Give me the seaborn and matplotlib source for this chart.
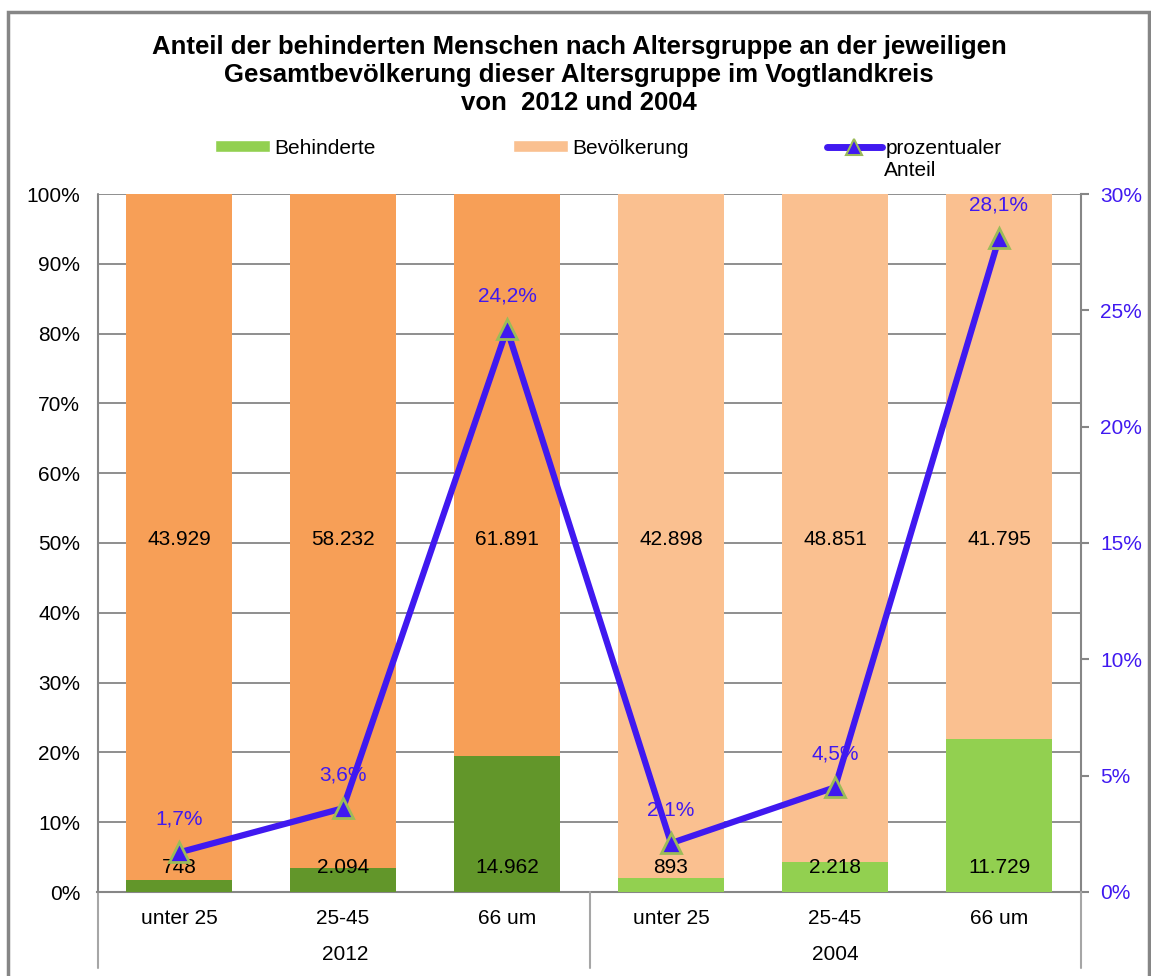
import pandas as pd
import matplotlib.pyplot as plt
import seaborn as sns
from matplotlib.patches import Patch, Rectangle
from matplotlib.lines import Line2D

# data
jahre = ["2012", "2012", "2012", "2004", "2004", "2004"]
gruppen = ["unter 25", "25-45", "66 um", "unter 25", "25-45", "66 um"]
behinderte = [748, 2094, 14962, 893, 2218, 11729]
bevoelkerung = [43929, 58232, 61891, 42898, 48851, 41795]
anteil = [1.7, 3.6, 24.2, 2.1, 4.5, 28.1]
anteil_labels = ["1,7%", "3,6%", "24,2%", "2,1%", "4,5%", "28,1%"]

col_beh = ["#62962A", "#62962A", "#62962A", "#92D050", "#92D050", "#92D050"]
col_bev = ["#F79F57", "#F79F57", "#F79F57", "#FAC090", "#FAC090", "#FAC090"]
line_col = "#4019F0"

df = pd.DataFrame({"jahr": jahre, "gruppe": gruppen,
                   "beh": behinderte, "bev": bevoelkerung, "anteil": anteil})
df["key"] = df["jahr"] + " " + df["gruppe"]
df["total"] = df["beh"] + df["bev"]
df["beh_pct"] = df["beh"] / df["total"] * 100
df["full"] = 100.0
df["pos"] = range(len(df))

sns.set_style("white")
plt.rcParams["font.family"] = ["Liberation Sans", "DejaVu Sans"]
plt.rcParams["text.color"] = "black"
plt.rcParams["ytick.color"] = "black"

fs = 15

fig = plt.figure(figsize=(11.51, 9.76), dpi=100)
ax = fig.add_axes([97 / 1151, 1 - 892 / 976, (1081 - 97) / 1151, (892 - 194) / 976])

# 100% stacked bars: full bar (Bevölkerung) then Behinderte share over it
sns.barplot(data=df, x="key", y="full", hue="key", palette=col_bev, width=0.645,
            legend=False, ax=ax, saturation=1, linewidth=0, zorder=2)
sns.barplot(data=df, x="key", y="beh_pct", hue="key", palette=col_beh, width=0.645,
            legend=False, ax=ax, saturation=1, linewidth=0, zorder=3)

ax.set_ylim(0, 100)
ax.set_xlim(-0.5, 5.5)
ax.set_yticks(range(0, 101, 10))
ax.set_yticklabels([f"{v}%" for v in range(0, 101, 10)], fontsize=fs)
ax.yaxis.grid(True, color="#868686", linewidth=1.3, zorder=0)
ax.set_axisbelow(True)
ax.set_xticks([])
ax.set_xlabel("")
ax.set_ylabel("")
ax.tick_params(axis="y", length=0, pad=12, labelcolor="black")
for s in ["left", "bottom", "right", "top"]:
    ax.spines[s].set_visible(False)
ax.spines["bottom"].set_visible(True)
ax.spines["bottom"].set_color("#868686")
ax.spines["bottom"].set_linewidth(1.5)

# value labels in the bars
for i, row in df.iterrows():
    ax.text(row["pos"], 3.5, f"{row['beh']:,}".replace(",", "."), ha="center",
            va="center", fontsize=fs, zorder=6)
    ax.text(row["pos"], 50.5, f"{row['bev']:,}".replace(",", "."), ha="center",
            va="center", fontsize=fs, zorder=6)

# secondary axis with the share line
ax2 = ax.twinx()
sns.lineplot(data=df, x="pos", y="anteil", ax=ax2, color=line_col, linewidth=4.5,
             marker="^", markersize=15, markerfacecolor=line_col,
             markeredgecolor="#9BBB59", markeredgewidth=2, zorder=5)
ax2.set_ylim(0, 30)
ax2.set_xlim(-0.5, 5.5)
ax2.set_yticks(range(0, 31, 5))
ax2.set_yticklabels([f"{v}%" for v in range(0, 31, 5)], fontsize=fs)
ax2.tick_params(axis="y", direction="out", length=6, color="#868686", width=1.5,
                pad=8, labelcolor=line_col)
ax2.set_ylabel("")
ax2.set_xlabel("")
for s in ["left", "bottom", "top"]:
    ax2.spines[s].set_visible(False)
ax2.spines["right"].set_color("#868686")
ax2.spines["right"].set_linewidth(1.5)

for x, y, lab in zip(df["pos"], anteil, anteil_labels):
    ax2.annotate(lab, (x, y), xytext=(0, 24), textcoords="offset points",
                 ha="center", va="center", fontsize=fs, color=line_col, zorder=7)

# two-level category axis below
for i, g in enumerate(gruppen):
    fig.text((97 + (i + 0.5) * (984 / 6)) / 1151, 1 - 918 / 976, g,
             ha="center", va="center", fontsize=fs)
fig.text(345 / 1151, 1 - 955 / 976, "2012", ha="center", va="center", fontsize=fs)
fig.text(835 / 1151, 1 - 955 / 976, "2004", ha="center", va="center", fontsize=fs)
for xp in [98, 590, 1081]:
    fig.add_artist(Line2D([xp / 1151, xp / 1151], [1 - 892 / 976, 1 - 968 / 976],
                          color="#A6A6A6", linewidth=1.5))
fig.add_artist(Line2D([98 / 1151, 98 / 1151], [1 - 892 / 976, 1 - 194 / 976],
                      color="#868686", linewidth=1.5))

# outer chart border
fig.add_artist(Rectangle((8 / 1151, -0.05), (1149 - 8) / 1151, 1.05 - 12 / 976,
                         transform=fig.transFigure, fill=False,
                         edgecolor="#868686", linewidth=2.5))

# title
fig.text(0.503, 1 - 75 / 976,
         "Anteil der behinderten Menschen nach Altersgruppe an der jeweiligen\n"
         "Gesamtbevölkerung dieser Altersgruppe im Vogtlandkreis\n"
         "von  2012 und 2004",
         ha="center", va="center", fontsize=18.5, fontweight="bold", linespacing=1.2)

# legend
handles = [Patch(facecolor="#92D050"), Patch(facecolor="#FAC090"),
           Line2D([], [], color=line_col, linewidth=5, marker="^", markersize=12,
                  markerfacecolor=line_col, markeredgecolor="#9BBB59", markeredgewidth=1.5)]
fig.legend(handles, ["Behinderte", "Bevölkerung", "prozentualer"], ncol=3,
           loc="center left", bbox_to_anchor=(215 / 1151, 1 - 148 / 976),
           frameon=False, fontsize=fs, handlelength=2.65, handleheight=0.5,
           handletextpad=0.2, columnspacing=6.6, borderpad=0, borderaxespad=0)
fig.text(884 / 1151, 1 - 171 / 976, "Anteil", ha="left", va="center", fontsize=fs)

fig.savefig("out.png", dpi=100)
